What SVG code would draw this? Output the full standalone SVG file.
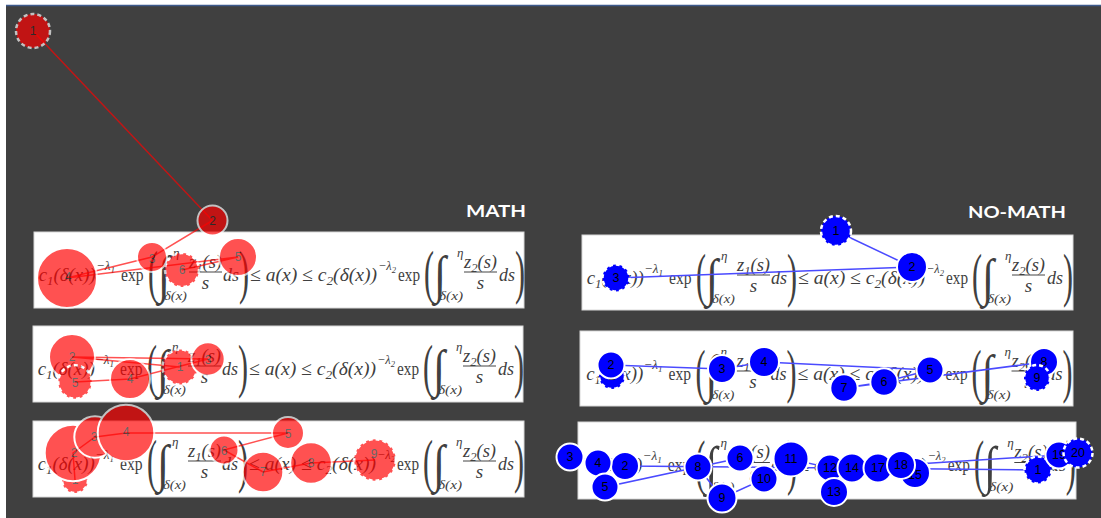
<svg xmlns="http://www.w3.org/2000/svg" width="1101" height="518" viewBox="0 0 1101 518">
<style>
.f{font-family:"Liberation Serif","DejaVu Serif",serif;font-style:italic;font-size:19px;fill:#404040}
.u{font-style:normal}
.s{font-size:13px}
.ss{font-size:9px}
.p{font-family:"Liberation Serif","DejaVu Serif",serif;font-size:60px;fill:#404040}
.i{font-family:"Liberation Serif","DejaVu Serif",serif;font-size:52px;fill:#404040}
.bar{stroke:#444;stroke-width:1}
.panel{fill:#fff;stroke:#d8d8d8;stroke-width:1}
.title{font-family:"Lato","Liberation Sans",sans-serif;font-weight:bold;font-size:17px;fill:#fff}
.rn{fill:#ff0000;stroke:#fff;stroke-width:2}
.bn{fill:#0000ff;stroke:#fff;stroke-width:2}
.d{stroke-dasharray:4 3;stroke-width:2.5}
.rl{font-family:"Liberation Sans",Arial,sans-serif;font-size:12px;fill:#222;text-anchor:middle;dominant-baseline:central}
.bl{font-family:"Liberation Sans",Arial,sans-serif;font-size:12.5px;fill:#000;text-anchor:middle;dominant-baseline:central}
.rc{stroke:#ff0000;stroke-width:1.5;fill:none}
.bc{stroke:#4a4aff;stroke-width:1.5;fill:none}
</style>
<rect x="0" y="0" width="1101" height="518" fill="#ffffff"/>
<rect x="6" y="6" width="1095" height="512" fill="#404040"/>
<line x1="6" y1="5.5" x2="1101" y2="5.5" stroke="#3d5a8c" stroke-width="1.5"/>

<g id="panels">
<rect class="panel" x="34" y="232" width="490" height="76"/>
<rect class="panel" x="33" y="326" width="490" height="76"/>
<rect class="panel" x="33" y="421" width="491" height="76"/>
<rect class="panel" x="582" y="235" width="491" height="75"/>
<rect class="panel" x="580" y="331" width="493" height="75"/>
<rect class="panel" x="578" y="422" width="498" height="77"/>
</g>

<g id="eq-m1" transform="translate(34,232)">
<text class="f" x="4.7" y="49" textLength="57" lengthAdjust="spacingAndGlyphs">c<tspan class="s" dy="4">1</tspan><tspan dy="-4">(δ(x))</tspan></text>
<text class="f s" x="62" y="38" textLength="19" lengthAdjust="spacingAndGlyphs">−λ<tspan class="ss" dy="3">1</tspan></text>
<text class="f u" x="87" y="49" textLength="22.5" lengthAdjust="spacingAndGlyphs">exp</text>
<text class="p" x="114" y="60" textLength="10" lengthAdjust="spacingAndGlyphs">(</text>
<text class="i" x="124" y="60" textLength="12" lengthAdjust="spacingAndGlyphs">∫</text>
<text class="f s" x="139" y="25">η</text>
<text class="f s" x="130" y="68" textLength="23" lengthAdjust="spacingAndGlyphs">δ(x)</text>
<text class="f" x="155" y="35.5" textLength="33" lengthAdjust="spacingAndGlyphs">z<tspan class="s" dy="4">1</tspan><tspan dy="-4">(s)</tspan></text>
<line class="bar" x1="155" y1="40" x2="188" y2="40"/>
<text class="f" x="171.5" y="57" text-anchor="middle">s</text>
<text class="f" x="189" y="49" textLength="16" lengthAdjust="spacingAndGlyphs">ds</text>
<text class="p" x="205" y="60" textLength="10" lengthAdjust="spacingAndGlyphs">)</text>
<text class="f" x="216" y="49" textLength="127" lengthAdjust="spacingAndGlyphs">≤ a(x) ≤ c<tspan class="s" dy="4">2</tspan><tspan dy="-4">(δ(x))</tspan></text>
<text class="f s" x="344" y="38" textLength="18" lengthAdjust="spacingAndGlyphs">−λ<tspan class="ss" dy="3">2</tspan></text>
<text class="f u" x="364" y="49" textLength="22" lengthAdjust="spacingAndGlyphs">exp</text>
<text class="p" x="390" y="60" textLength="10" lengthAdjust="spacingAndGlyphs">(</text>
<text class="i" x="400" y="60" textLength="12" lengthAdjust="spacingAndGlyphs">∫</text>
<text class="f s" x="423" y="25">η</text>
<text class="f s" x="405" y="68" textLength="24" lengthAdjust="spacingAndGlyphs">δ(x)</text>
<text class="f" x="430" y="35.5" textLength="33" lengthAdjust="spacingAndGlyphs">z<tspan class="s" dy="4">2</tspan><tspan dy="-4">(s)</tspan></text>
<line class="bar" x1="430" y1="40" x2="463" y2="40"/>
<text class="f" x="446.5" y="57" text-anchor="middle">s</text>
<text class="f" x="465" y="49" textLength="16" lengthAdjust="spacingAndGlyphs">ds</text>
<text class="p" x="481" y="60" textLength="10" lengthAdjust="spacingAndGlyphs">)</text>
</g>

<g id="eq-m2" transform="translate(33,326)">
<text class="f" x="4.7" y="49" textLength="57" lengthAdjust="spacingAndGlyphs">c<tspan class="s" dy="4">1</tspan><tspan dy="-4">(δ(x))</tspan></text>
<text class="f s" x="62" y="38" textLength="19" lengthAdjust="spacingAndGlyphs">−λ<tspan class="ss" dy="3">1</tspan></text>
<text class="f u" x="87" y="49" textLength="22.5" lengthAdjust="spacingAndGlyphs">exp</text>
<text class="p" x="114" y="60" textLength="10" lengthAdjust="spacingAndGlyphs">(</text>
<text class="i" x="124" y="60" textLength="12" lengthAdjust="spacingAndGlyphs">∫</text>
<text class="f s" x="139" y="25">η</text>
<text class="f s" x="130" y="68" textLength="23" lengthAdjust="spacingAndGlyphs">δ(x)</text>
<text class="f" x="155" y="35.5" textLength="33" lengthAdjust="spacingAndGlyphs">z<tspan class="s" dy="4">1</tspan><tspan dy="-4">(s)</tspan></text>
<line class="bar" x1="155" y1="40" x2="188" y2="40"/>
<text class="f" x="171.5" y="57" text-anchor="middle">s</text>
<text class="f" x="189" y="49" textLength="16" lengthAdjust="spacingAndGlyphs">ds</text>
<text class="p" x="205" y="60" textLength="10" lengthAdjust="spacingAndGlyphs">)</text>
<text class="f" x="216" y="49" textLength="127" lengthAdjust="spacingAndGlyphs">≤ a(x) ≤ c<tspan class="s" dy="4">2</tspan><tspan dy="-4">(δ(x))</tspan></text>
<text class="f s" x="344" y="38" textLength="18" lengthAdjust="spacingAndGlyphs">−λ<tspan class="ss" dy="3">2</tspan></text>
<text class="f u" x="364" y="49" textLength="22" lengthAdjust="spacingAndGlyphs">exp</text>
<text class="p" x="390" y="60" textLength="10" lengthAdjust="spacingAndGlyphs">(</text>
<text class="i" x="400" y="60" textLength="12" lengthAdjust="spacingAndGlyphs">∫</text>
<text class="f s" x="423" y="25">η</text>
<text class="f s" x="405" y="68" textLength="24" lengthAdjust="spacingAndGlyphs">δ(x)</text>
<text class="f" x="430" y="35.5" textLength="33" lengthAdjust="spacingAndGlyphs">z<tspan class="s" dy="4">2</tspan><tspan dy="-4">(s)</tspan></text>
<line class="bar" x1="430" y1="40" x2="463" y2="40"/>
<text class="f" x="446.5" y="57" text-anchor="middle">s</text>
<text class="f" x="465" y="49" textLength="16" lengthAdjust="spacingAndGlyphs">ds</text>
<text class="p" x="481" y="60" textLength="10" lengthAdjust="spacingAndGlyphs">)</text>
</g>

<g id="eq-m3" transform="translate(33,421)">
<text class="f" x="4.7" y="49" textLength="57" lengthAdjust="spacingAndGlyphs">c<tspan class="s" dy="4">1</tspan><tspan dy="-4">(δ(x))</tspan></text>
<text class="f s" x="62" y="38" textLength="19" lengthAdjust="spacingAndGlyphs">−λ<tspan class="ss" dy="3">1</tspan></text>
<text class="f u" x="87" y="49" textLength="22.5" lengthAdjust="spacingAndGlyphs">exp</text>
<text class="p" x="114" y="60" textLength="10" lengthAdjust="spacingAndGlyphs">(</text>
<text class="i" x="124" y="60" textLength="12" lengthAdjust="spacingAndGlyphs">∫</text>
<text class="f s" x="139" y="25">η</text>
<text class="f s" x="130" y="68" textLength="23" lengthAdjust="spacingAndGlyphs">δ(x)</text>
<text class="f" x="155" y="35.5" textLength="33" lengthAdjust="spacingAndGlyphs">z<tspan class="s" dy="4">1</tspan><tspan dy="-4">(s)</tspan></text>
<line class="bar" x1="155" y1="40" x2="188" y2="40"/>
<text class="f" x="171.5" y="57" text-anchor="middle">s</text>
<text class="f" x="189" y="49" textLength="16" lengthAdjust="spacingAndGlyphs">ds</text>
<text class="p" x="205" y="60" textLength="10" lengthAdjust="spacingAndGlyphs">)</text>
<text class="f" x="216" y="49" textLength="127" lengthAdjust="spacingAndGlyphs">≤ a(x) ≤ c<tspan class="s" dy="4">2</tspan><tspan dy="-4">(δ(x))</tspan></text>
<text class="f s" x="344" y="38" textLength="18" lengthAdjust="spacingAndGlyphs">−λ<tspan class="ss" dy="3">2</tspan></text>
<text class="f u" x="364" y="49" textLength="22" lengthAdjust="spacingAndGlyphs">exp</text>
<text class="p" x="390" y="60" textLength="10" lengthAdjust="spacingAndGlyphs">(</text>
<text class="i" x="400" y="60" textLength="12" lengthAdjust="spacingAndGlyphs">∫</text>
<text class="f s" x="423" y="25">η</text>
<text class="f s" x="405" y="68" textLength="24" lengthAdjust="spacingAndGlyphs">δ(x)</text>
<text class="f" x="430" y="35.5" textLength="33" lengthAdjust="spacingAndGlyphs">z<tspan class="s" dy="4">2</tspan><tspan dy="-4">(s)</tspan></text>
<line class="bar" x1="430" y1="40" x2="463" y2="40"/>
<text class="f" x="446.5" y="57" text-anchor="middle">s</text>
<text class="f" x="465" y="49" textLength="16" lengthAdjust="spacingAndGlyphs">ds</text>
<text class="p" x="481" y="60" textLength="10" lengthAdjust="spacingAndGlyphs">)</text>
</g>

<g id="eq-n1" transform="translate(582,235)">
<text class="f" x="4.7" y="49" textLength="57" lengthAdjust="spacingAndGlyphs">c<tspan class="s" dy="4">1</tspan><tspan dy="-4">(δ(x))</tspan></text>
<text class="f s" x="62" y="38" textLength="19" lengthAdjust="spacingAndGlyphs">−λ<tspan class="ss" dy="3">1</tspan></text>
<text class="f u" x="87" y="49" textLength="22.5" lengthAdjust="spacingAndGlyphs">exp</text>
<text class="p" x="114" y="60" textLength="10" lengthAdjust="spacingAndGlyphs">(</text>
<text class="i" x="124" y="60" textLength="12" lengthAdjust="spacingAndGlyphs">∫</text>
<text class="f s" x="139" y="25">η</text>
<text class="f s" x="130" y="68" textLength="23" lengthAdjust="spacingAndGlyphs">δ(x)</text>
<text class="f" x="155" y="35.5" textLength="33" lengthAdjust="spacingAndGlyphs">z<tspan class="s" dy="4">1</tspan><tspan dy="-4">(s)</tspan></text>
<line class="bar" x1="155" y1="40" x2="188" y2="40"/>
<text class="f" x="171.5" y="57" text-anchor="middle">s</text>
<text class="f" x="189" y="49" textLength="16" lengthAdjust="spacingAndGlyphs">ds</text>
<text class="p" x="205" y="60" textLength="10" lengthAdjust="spacingAndGlyphs">)</text>
<text class="f" x="216" y="49" textLength="127" lengthAdjust="spacingAndGlyphs">≤ a(x) ≤ c<tspan class="s" dy="4">2</tspan><tspan dy="-4">(δ(x))</tspan></text>
<text class="f s" x="344" y="38" textLength="18" lengthAdjust="spacingAndGlyphs">−λ<tspan class="ss" dy="3">2</tspan></text>
<text class="f u" x="364" y="49" textLength="22" lengthAdjust="spacingAndGlyphs">exp</text>
<text class="p" x="390" y="60" textLength="10" lengthAdjust="spacingAndGlyphs">(</text>
<text class="i" x="400" y="60" textLength="12" lengthAdjust="spacingAndGlyphs">∫</text>
<text class="f s" x="423" y="25">η</text>
<text class="f s" x="405" y="68" textLength="24" lengthAdjust="spacingAndGlyphs">δ(x)</text>
<text class="f" x="430" y="35.5" textLength="33" lengthAdjust="spacingAndGlyphs">z<tspan class="s" dy="4">2</tspan><tspan dy="-4">(s)</tspan></text>
<line class="bar" x1="430" y1="40" x2="463" y2="40"/>
<text class="f" x="446.5" y="57" text-anchor="middle">s</text>
<text class="f" x="465" y="49" textLength="16" lengthAdjust="spacingAndGlyphs">ds</text>
<text class="p" x="481" y="60" textLength="10" lengthAdjust="spacingAndGlyphs">)</text>
</g>

<g id="eq-n2" transform="translate(581.5,331)">
<text class="f" x="4.7" y="49" textLength="57" lengthAdjust="spacingAndGlyphs">c<tspan class="s" dy="4">1</tspan><tspan dy="-4">(δ(x))</tspan></text>
<text class="f s" x="62" y="38" textLength="19" lengthAdjust="spacingAndGlyphs">−λ<tspan class="ss" dy="3">1</tspan></text>
<text class="f u" x="87" y="49" textLength="22.5" lengthAdjust="spacingAndGlyphs">exp</text>
<text class="p" x="114" y="60" textLength="10" lengthAdjust="spacingAndGlyphs">(</text>
<text class="i" x="124" y="60" textLength="12" lengthAdjust="spacingAndGlyphs">∫</text>
<text class="f s" x="139" y="25">η</text>
<text class="f s" x="130" y="68" textLength="23" lengthAdjust="spacingAndGlyphs">δ(x)</text>
<text class="f" x="155" y="35.5" textLength="33" lengthAdjust="spacingAndGlyphs">z<tspan class="s" dy="4">1</tspan><tspan dy="-4">(s)</tspan></text>
<line class="bar" x1="155" y1="40" x2="188" y2="40"/>
<text class="f" x="171.5" y="57" text-anchor="middle">s</text>
<text class="f" x="189" y="49" textLength="16" lengthAdjust="spacingAndGlyphs">ds</text>
<text class="p" x="205" y="60" textLength="10" lengthAdjust="spacingAndGlyphs">)</text>
<text class="f" x="216" y="49" textLength="127" lengthAdjust="spacingAndGlyphs">≤ a(x) ≤ c<tspan class="s" dy="4">2</tspan><tspan dy="-4">(δ(x))</tspan></text>
<text class="f s" x="344" y="38" textLength="18" lengthAdjust="spacingAndGlyphs">−λ<tspan class="ss" dy="3">2</tspan></text>
<text class="f u" x="364" y="49" textLength="22" lengthAdjust="spacingAndGlyphs">exp</text>
<text class="p" x="390" y="60" textLength="10" lengthAdjust="spacingAndGlyphs">(</text>
<text class="i" x="400" y="60" textLength="12" lengthAdjust="spacingAndGlyphs">∫</text>
<text class="f s" x="423" y="25">η</text>
<text class="f s" x="405" y="68" textLength="24" lengthAdjust="spacingAndGlyphs">δ(x)</text>
<text class="f" x="430" y="35.5" textLength="33" lengthAdjust="spacingAndGlyphs">z<tspan class="s" dy="4">2</tspan><tspan dy="-4">(s)</tspan></text>
<line class="bar" x1="430" y1="40" x2="463" y2="40"/>
<text class="f" x="446.5" y="57" text-anchor="middle">s</text>
<text class="f" x="465" y="49" textLength="16" lengthAdjust="spacingAndGlyphs">ds</text>
<text class="p" x="481" y="60" textLength="10" lengthAdjust="spacingAndGlyphs">)</text>
</g>

<g id="eq-n3" transform="translate(580,422) scale(1.01)">
<text class="f" x="4.7" y="49" textLength="57" lengthAdjust="spacingAndGlyphs">c<tspan class="s" dy="4">1</tspan><tspan dy="-4">(δ(x))</tspan></text>
<text class="f s" x="62" y="38" textLength="19" lengthAdjust="spacingAndGlyphs">−λ<tspan class="ss" dy="3">1</tspan></text>
<text class="f u" x="87" y="49" textLength="22.5" lengthAdjust="spacingAndGlyphs">exp</text>
<text class="p" x="114" y="60" textLength="10" lengthAdjust="spacingAndGlyphs">(</text>
<text class="i" x="124" y="60" textLength="12" lengthAdjust="spacingAndGlyphs">∫</text>
<text class="f s" x="139" y="25">η</text>
<text class="f s" x="130" y="68" textLength="23" lengthAdjust="spacingAndGlyphs">δ(x)</text>
<text class="f" x="155" y="35.5" textLength="33" lengthAdjust="spacingAndGlyphs">z<tspan class="s" dy="4">1</tspan><tspan dy="-4">(s)</tspan></text>
<line class="bar" x1="155" y1="40" x2="188" y2="40"/>
<text class="f" x="171.5" y="57" text-anchor="middle">s</text>
<text class="f" x="189" y="49" textLength="16" lengthAdjust="spacingAndGlyphs">ds</text>
<text class="p" x="205" y="60" textLength="10" lengthAdjust="spacingAndGlyphs">)</text>
<text class="f" x="216" y="49" textLength="127" lengthAdjust="spacingAndGlyphs">≤ a(x) ≤ c<tspan class="s" dy="4">2</tspan><tspan dy="-4">(δ(x))</tspan></text>
<text class="f s" x="344" y="38" textLength="18" lengthAdjust="spacingAndGlyphs">−λ<tspan class="ss" dy="3">2</tspan></text>
<text class="f u" x="364" y="49" textLength="22" lengthAdjust="spacingAndGlyphs">exp</text>
<text class="p" x="390" y="60" textLength="10" lengthAdjust="spacingAndGlyphs">(</text>
<text class="i" x="400" y="60" textLength="12" lengthAdjust="spacingAndGlyphs">∫</text>
<text class="f s" x="423" y="25">η</text>
<text class="f s" x="405" y="68" textLength="24" lengthAdjust="spacingAndGlyphs">δ(x)</text>
<text class="f" x="430" y="35.5" textLength="33" lengthAdjust="spacingAndGlyphs">z<tspan class="s" dy="4">2</tspan><tspan dy="-4">(s)</tspan></text>
<line class="bar" x1="430" y1="40" x2="463" y2="40"/>
<text class="f" x="446.5" y="57" text-anchor="middle">s</text>
<text class="f" x="465" y="49" textLength="16" lengthAdjust="spacingAndGlyphs">ds</text>
<text class="p" x="481" y="60" textLength="10" lengthAdjust="spacingAndGlyphs">)</text>
</g>

<g id="titles">
<text class="title" x="526" y="217" text-anchor="end" textLength="60" lengthAdjust="spacingAndGlyphs">MATH</text>
<text class="title" x="1066" y="218" text-anchor="end" textLength="98" lengthAdjust="spacingAndGlyphs">NO-MATH</text>
</g>

<g id="connectors">
<g id="math-connectors" opacity="0.68">
<polyline class="rc" points="33,31 212.5,220.5 152,257 67,278 238,257 182,270"/>
<polyline class="rc" points="180,367 72,357 208,359 130,379 75,382"/>
<polyline class="rc" points="75,480 73,453 95,437 126,433 288,433 224,450 263,472 311,463 375,460"/>
</g>
<g id="nomath-connectors">
<polyline class="bc" points="836,231 912,267 616,278"/>
<polyline class="bc" points="612,376 611,365 722,369 764,362 930,370 884,382 844,388 1044,362 1037,378"/>
<polyline class="bc" points="1038,470 625,466 570,457 598,463 605,487 740,458 698,467 722,498 764,479 791,459 830,468 834,492 852,468 915,473 878,468 901,465 1059,455 1078,453"/>
</g>
</g>

<g id="math-nodes" opacity="0.68">
<g id="m1-n1"><circle class="rn d" cx="33" cy="31" r="17"/><text class="rl" x="33" y="31">1</text></g>
<g id="m1-n2"><circle class="rn" cx="212.5" cy="220.5" r="15"/><text class="rl" x="212.5" y="220.5">2</text></g>
<g id="m1-n3"><circle class="rn" cx="152" cy="257" r="15"/><text class="rl" x="152" y="259">3</text></g>
<g id="m1-n4"><circle class="rn" cx="67" cy="278" r="30"/><text class="rl" x="68" y="277">4</text></g>
<g id="m1-n5"><circle class="rn" cx="238" cy="257" r="19"/><text class="rl" x="238" y="257">5</text></g>
<g id="m1-n6"><circle class="rn d" cx="182" cy="270" r="17"/><text class="rl" x="182" y="270">6</text></g>

<g id="m2-n1"><circle class="rn d" cx="180" cy="367" r="17.5"/><text class="rl" x="180" y="367">1</text></g>
<g id="m2-n2"><circle class="rn" cx="72" cy="357" r="23"/><text class="rl" x="72" y="357">2</text></g>
<g id="m2-n3"><circle class="rn" cx="208" cy="359" r="16.7"/><text class="rl" x="208" y="360">3</text></g>
<g id="m2-n4"><circle class="rn" cx="130" cy="379" r="20"/><text class="rl" x="130" y="379">4</text></g>
<g id="m2-n5"><circle class="rn d" cx="75" cy="382" r="16.7"/><text class="rl" x="75" y="383">5</text></g>

<g id="m3-n1"><circle class="rn d" cx="75" cy="480" r="13"/><text class="rl" x="75" y="480">1</text></g>
<g id="m3-n2"><circle class="rn" cx="73" cy="453" r="28.3"/><text class="rl" x="74" y="453">2</text></g>
<g id="m3-n3"><circle class="rn" cx="95" cy="437" r="20.7"/><text class="rl" x="94" y="437">3</text></g>
<g id="m3-n4"><circle class="rn" cx="126" cy="433" r="28.3"/><text class="rl" x="126" y="432">4</text></g>
<g id="m3-n5"><circle class="rn" cx="288" cy="433" r="16"/><text class="rl" x="288" y="434">5</text></g>
<g id="m3-n6"><circle class="rn" cx="224" cy="450" r="14.5"/><text class="rl" x="224" y="451">6</text></g>
<g id="m3-n7"><circle class="rn" cx="263" cy="472" r="20.3"/><text class="rl" x="263" y="472">7</text></g>
<g id="m3-n8"><circle class="rn" cx="311" cy="463" r="20.8"/><text class="rl" x="311" y="463">8</text></g>
<g id="m3-n9"><circle class="rn d" cx="375" cy="460" r="20.8"/><text class="rl" x="374" y="454">9</text></g>
</g>

<g id="nomath-nodes">
<g id="n1-n1"><circle class="bn d" cx="836" cy="231" r="15"/><text class="bl" x="836" y="231">1</text></g>
<g id="n1-n2"><circle class="bn" cx="912" cy="267" r="15"/><text class="bl" x="912" y="267">2</text></g>
<g id="n1-n3"><circle class="bn d" cx="616" cy="278" r="13.5"/><text class="bl" x="616" y="278">3</text></g>

<g id="n2-n1"><circle class="bn d" cx="612" cy="376" r="13"/><text class="bl" x="612" y="376">1</text></g>
<g id="n2-n2"><circle class="bn" cx="611" cy="365" r="13.5"/><text class="bl" x="611" y="365">2</text></g>
<g id="n2-n3"><circle class="bn" cx="722" cy="369" r="14"/><text class="bl" x="722" y="369">3</text></g>
<g id="n2-n4"><circle class="bn" cx="764" cy="362" r="15"/><text class="bl" x="764" y="362">4</text></g>
<g id="n2-n5"><circle class="bn" cx="930" cy="370" r="13.5"/><text class="bl" x="930" y="370">5</text></g>
<g id="n2-n6"><circle class="bn" cx="884" cy="382" r="13.7"/><text class="bl" x="884" y="382">6</text></g>
<g id="n2-n7"><circle class="bn" cx="844" cy="388" r="13.7"/><text class="bl" x="844" y="388">7</text></g>
<g id="n2-n8"><circle class="bn" cx="1044" cy="362" r="14"/><text class="bl" x="1044" y="362">8</text></g>
<g id="n2-n9"><circle class="bn d" cx="1037" cy="378" r="13"/><text class="bl" x="1037" y="378">9</text></g>

<g id="n3-n1"><circle class="bn d" cx="1038" cy="470" r="13.5"/><text class="bl" x="1038" y="470">1</text></g>
<g id="n3-n2"><circle class="bn" cx="625" cy="466" r="14"/><text class="bl" x="625" y="466">2</text></g>
<g id="n3-n3"><circle class="bn" cx="570" cy="457" r="13.5"/><text class="bl" x="570" y="457">3</text></g>
<g id="n3-n4"><circle class="bn" cx="598" cy="463" r="13.5"/><text class="bl" x="598" y="463">4</text></g>
<g id="n3-n5"><circle class="bn" cx="605" cy="487" r="13.5"/><text class="bl" x="605" y="487">5</text></g>
<g id="n3-n6"><circle class="bn" cx="740" cy="458" r="13.5"/><text class="bl" x="740" y="458">6</text></g>
<g id="n3-n8"><circle class="bn" cx="698" cy="467" r="13.5"/><text class="bl" x="698" y="467">8</text></g>
<g id="n3-n9"><circle class="bn" cx="722" cy="498" r="14.5"/><text class="bl" x="722" y="498">9</text></g>
<g id="n3-n10"><circle class="bn" cx="764" cy="479" r="13.5"/><text class="bl" x="764" y="479">10</text></g>
<g id="n3-n11"><circle class="bn" cx="791" cy="459" r="17.5"/><text class="bl" x="791" y="459">11</text></g>
<g id="n3-n12"><circle class="bn" cx="830" cy="468" r="13.5"/><text class="bl" x="830" y="468">12</text></g>
<g id="n3-n13"><circle class="bn" cx="834" cy="492" r="14"/><text class="bl" x="834" y="492">13</text></g>
<g id="n3-n14"><circle class="bn" cx="852" cy="468" r="14.5"/><text class="bl" x="852" y="468">14</text></g>
<g id="n3-n15"><circle class="bn" cx="915" cy="473" r="15"/><text class="bl" x="915" y="475">15</text></g>
<g id="n3-n17"><circle class="bn" cx="878" cy="468" r="14.5"/><text class="bl" x="878" y="468">17</text></g>
<g id="n3-n18"><circle class="bn" cx="901" cy="465" r="14"/><text class="bl" x="901" y="465">18</text></g>
<g id="n3-n19"><circle class="bn" cx="1059" cy="455" r="13.5"/><text class="bl" x="1059" y="455">19</text></g>
<g id="n3-n20"><circle class="bn d" cx="1078" cy="453" r="14.5"/><text class="bl" x="1078" y="453">20</text></g>
</g>
</svg>
